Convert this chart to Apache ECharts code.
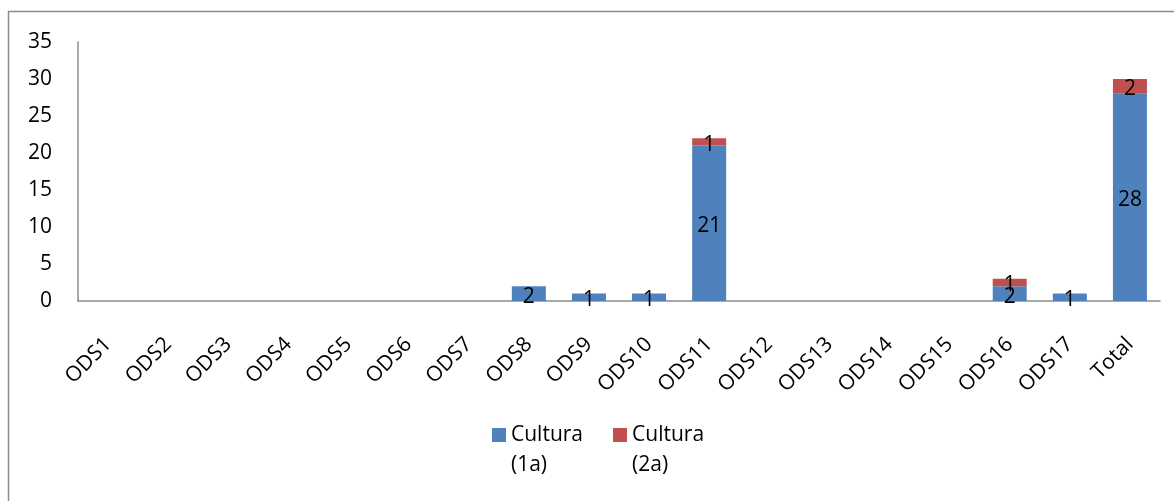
<!DOCTYPE html>
<html>
<head>
<meta charset="utf-8">
<script src="https://cdn.jsdelivr.net/npm/echarts@6/dist/echarts.min.js"></script>
<style>html,body{margin:0;padding:0;background:#fff}#c{width:1174px;height:501px}</style>
</head>
<body>
<div id="c"></div>
<script>
const categories = ['ODS1','ODS2','ODS3','ODS4','ODS5','ODS6','ODS7','ODS8','ODS9','ODS10','ODS11','ODS12','ODS13','ODS14','ODS15','ODS16','ODS17','Total'];
const cultura1a = [null,null,null,null,null,null,null,2,1,1,21,null,null,null,null,2,1,28];
const cultura2a = [null,null,null,null,null,null,null,null,null,null,1,null,null,null,null,1,null,2];
const seriesNames = ['Cultura (1a)','Cultura (2a)'];
const yTicks = {min:0, max:35, interval:5};

const font = '"Open Sans", sans-serif';
const chart = echarts.init(document.getElementById('c'));
const lbl = {show:true, position:'inside', color:'#000', fontSize:21, fontFamily:font, offset:[0,3]};
chart.setOption({
  animation:false,
  graphic:[{type:'rect', shape:{x:8.5,y:11.5,width:1300,height:600}, style:{fill:'none', stroke:'#8c8c8c', lineWidth:1.5}, silent:true}],
  grid:{left:78, top:42, right:14, bottom:200, containLabel:false},
  legend:{
    top:420, left:492, itemWidth:14, itemHeight:44, itemGap:30, padding:0,
    icon:'path://M0,0L14,0L14,14L0,14Z M0,44L0.001,44L0,44Z',
    data:seriesNames,
    formatter:n=>n.replace(' ','\n'),
    textStyle:{fontSize:21, fontFamily:font, color:'#000', lineHeight:30}
  },
  xAxis:{
    type:'category', data:categories,
    axisLine:{lineStyle:{color:'#8c8c8c', width:1.5}},
    axisTick:{show:false},
    axisLabel:{rotate:45, fontSize:21, fontFamily:font, color:'#000', margin:40, interval:0, hideOverlap:false}
  },
  yAxis:{
    type:'value', min:yTicks.min, max:yTicks.max, interval:yTicks.interval,
    axisLine:{show:true, lineStyle:{color:'#8c8c8c', width:1.5}},
    axisTick:{show:false},
    splitLine:{show:false},
    axisLabel:{fontSize:21, fontFamily:font, color:'#000', margin:26}
  },
  series:[
    {name:seriesNames[0], type:'bar', stack:'s', data:cultura1a, barWidth:34, itemStyle:{color:'#4F81BD'}, label:lbl},
    {name:seriesNames[1], type:'bar', stack:'s', data:cultura2a, barWidth:34, itemStyle:{color:'#C0504D'}, label:lbl}
  ]
});
</script>
</body>
</html>
